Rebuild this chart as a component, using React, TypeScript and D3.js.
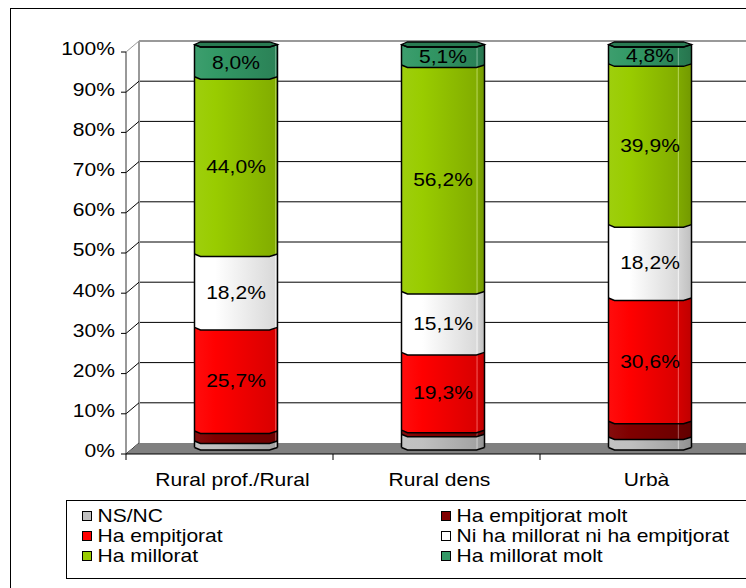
import React from "react";
import * as d3 from "d3";

const categories = ["Rural prof./Rural", "Rural dens", "Urbà"];
const seriesNames = [
  "NS/NC",
  "Ha empitjorat molt",
  "Ha empitjorat",
  "Ni ha millorat ni ha empitjorat",
  "Ha millorat",
  "Ha millorat molt",
];
const seriesColors = ["#c0c0c0", "#800000", "#ff0000", "#ffffff", "#99cc00", "#339966"];
const nsnc = [1.6, 3.3, 2.6];
const empitjoratMolt = [2.5, 1.0, 3.9];
const empitjorat = [25.7, 19.3, 30.6];
const niNi = [18.2, 15.1, 18.2];
const millorat = [44.0, 56.2, 39.9];
const milloratMolt = [8.0, 5.1, 4.8];
const seriesValues = [nsnc, empitjoratMolt, empitjorat, niNi, millorat, milloratMolt];
const labeledSeries = [2, 3, 4, 5];
const yTicks = [0, 10, 20, 30, 40, 50, 60, 70, 80, 90, 100];
// legend layout order: [col, row]
const legendOrder = [
  [0, 0],
  [1, 0],
  [0, 1],
  [1, 1],
  [0, 2],
  [1, 2],
];

const FONT = "'Liberation Sans', Arial, sans-serif";
const FS = 18;
const SX = 1.17;
const W = 746;
const H = 588;
const DX = 13;
const DY = -11;

function T(props: { x: number; y: number; anchor?: string; children: React.ReactNode }) {
  const { x, y, anchor = "start", children } = props;
  return (
    <text
      transform={`translate(${x},${y}) scale(${SX},1)`}
      textAnchor={anchor}
      dominantBaseline="central"
      fontSize={FS}
      fontFamily={FONT}
      fill="#000"
    >
      {children}
    </text>
  );
}

export default function App() {
  const x = d3.scaleBand<string>().domain(categories).range([126, 747]).padding(0);
  const yFront = d3.scaleLinear().domain([0, 100]).range([454, 52]);
  const yBar = d3.scaleLinear().domain([0, 100]).range([450, 47]);
  const barW = 83;
  const dip = 2.5;
  const c1 = 6;
  const c2 = 8;

  const mix = (a: string, b: string, t: number) => d3.interpolateRgb(a, b)(t);

  const gradients: React.ReactNode[] = [];
  seriesColors.forEach((c, si) => {
    categories.forEach((_, ci) => {
      const facet = 0.99 - 0.07 * ci;
      gradients.push(
        <linearGradient key={`g${si}-${ci}`} id={`g${si}-${ci}`} x1="0" x2="1" y1="0" y2="0">
          <stop offset="0" stopColor={mix(c, "#ffffff", 0.05)} />
          <stop offset="0.25" stopColor={c} />
          <stop offset={facet - 0.02} stopColor={mix(c, "#000000", 0.15)} />
          <stop offset={facet - 0.01} stopColor={mix(c, "#ffffff", 0.45)} />
          <stop offset={facet} stopColor={mix(c, "#000000", 0.17)} />
          <stop offset="1" stopColor={mix(c, "#000000", 0.25)} />
        </linearGradient>
      );
    });
  });

  const boundary = (x0: number, x1: number, y: number) =>
    [
      [x0, y - dip],
      [x0 + c1, y],
      [x1 - c2, y],
      [x1, y - dip],
    ] as [number, number][];

  const line = d3.line();

  const bars: React.ReactNode[] = [];
  const labels: React.ReactNode[] = [];
  categories.forEach((cat, ci) => {
    const cx = (x(cat) as number) + x.bandwidth() / 2 + DX / 2;
    const x0 = cx - barW / 2;
    const x1 = cx + barW / 2;
    let cum = 0;
    const edges: number[] = [0];
    seriesValues.forEach((vals, si) => {
      const a = cum;
      const b = cum + vals[ci];
      cum = b;
      edges.push(b);
      const top = boundary(x0, x1, yBar(b));
      const bot = boundary(x0, x1, yBar(a)).reverse();
      bars.push(
        <path
          key={`s${ci}-${si}`}
          d={line([...top, ...bot]) + "Z"}
          fill={`url(#g${si}-${ci})`}
        />
      );
      if (labeledSeries.includes(si)) {
        labels.push(
          <T key={`l${ci}-${si}`} x={cx} y={(yBar(a) + yBar(b)) / 2 - 1} anchor="middle">
            {vals[ci].toFixed(1).replace(".", ",") + "%"}
          </T>
        );
      }
    });
    const yt = yBar(cum);
    const cap: [number, number][] = [
      [x0, yt - dip],
      [x0 + c1, yt - dip - 2.5],
      [x1 - c2, yt - dip - 2.5],
      [x1, yt - dip],
      [x1 - c2, yt],
      [x0 + c1, yt],
    ];
    bars.push(
      <path
        key={`cap${ci}`}
        d={line(cap) + "Z"}
        fill={mix(seriesColors[5], "#000000", 0.2)}
        stroke="#000"
        strokeWidth={1.3}
      />
    );
    edges.forEach((v, ei) => {
      bars.push(
        <path
          key={`e${ci}-${ei}`}
          d={line(boundary(x0, x1, yBar(v))) as string}
          fill="none"
          stroke="#000"
          strokeWidth={1.5}
        />
      );
    });
    bars.push(
      <line key={`lv${ci}`} x1={x0} x2={x0} y1={yt - dip} y2={yBar(0) - dip} stroke="#000" strokeWidth={1.5} />,
      <line key={`rv${ci}`} x1={x1} x2={x1} y1={yt - dip} y2={yBar(0) - dip} stroke="#000" strokeWidth={1.5} />
    );
  });

  const backX = 126 + DX;
  const floorBack = yFront(0) + DY;

  return (
    <svg width={W} height={H} style={{ position: "absolute", left: 0, top: 0 }}>
      <defs>{gradients}</defs>
      <rect x={0} y={0} width={W} height={H} fill="#fff" />
      <rect x={10.5} y={8.5} width={800} height={700} fill="#fff" stroke="#000" strokeWidth={1} />

      {yTicks
        .filter((v) => v > 0 && v < 100)
        .map((v) => (
          <line
            key={`gl${v}`}
            x1={backX}
            x2={W}
            y1={yFront(v) + DY}
            y2={yFront(v) + DY}
            stroke="#000"
            strokeWidth={1}
          />
        ))}
      <line x1={backX} x2={W} y1={yFront(100) + DY} y2={yFront(100) + DY} stroke="#999" strokeWidth={2} />
      <line x1={backX} x2={backX} y1={yFront(100) + DY} y2={floorBack} stroke="#999" strokeWidth={2} />
      {yTicks.map((v) => (
        <line
          key={`dg${v}`}
          x1={126}
          y1={yFront(v)}
          x2={backX}
          y2={yFront(v) + DY}
          stroke={v === 100 ? "#999" : "#000"}
          strokeWidth={1}
        />
      ))}
      <path
        d={`M126,${yFront(0)} L${backX},${floorBack} L${W + 20},${floorBack} L${W + 20},${yFront(0)} Z`}
        fill="#808080"
      />
      <line x1={126} x2={126} y1={yFront(100)} y2={yFront(0)} stroke="#333" strokeWidth={1} />
      {yTicks.map((v) => (
        <g key={`yt${v}`}>
          <line x1={121} x2={126} y1={yFront(v)} y2={yFront(v)} stroke="#000" strokeWidth={1} />
          <T x={115} y={yFront(v) - 3} anchor="end">
            {v + "%"}
          </T>
        </g>
      ))}
      <line x1={126} x2={W} y1={yFront(0)} y2={yFront(0)} stroke="#000" strokeWidth={1} />
      {[...categories.map((c) => x(c) as number), 747].map((t, i) => (
        <line key={`xt${i}`} x1={t} x2={t} y1={yFront(0)} y2={yFront(0) + 6} stroke="#000" strokeWidth={1} />
      ))}

      {bars}
      {labels}

      {categories.map((c) => (
        <T key={`cl${c}`} x={(x(c) as number) + x.bandwidth() / 2 + 3} y={480} anchor="middle">
          {c}
        </T>
      ))}

      <rect x={66.5} y={500.5} width={760} height={78} fill="#fff" stroke="#000" strokeWidth={1} />
      {seriesNames.map((name, si) => {
        const [col, row] = legendOrder[si];
        const sx = col === 0 ? 82.5 : 441.5;
        const cy = 516 + row * 20;
        return (
          <g key={`lg${si}`}>
            <rect x={sx} y={cy - 4.5} width={9} height={9} fill={seriesColors[si]} stroke="#000" strokeWidth={1} />
            <T x={sx + 15} y={cy}>
              {name}
            </T>
          </g>
        );
      })}
    </svg>
  );
}
